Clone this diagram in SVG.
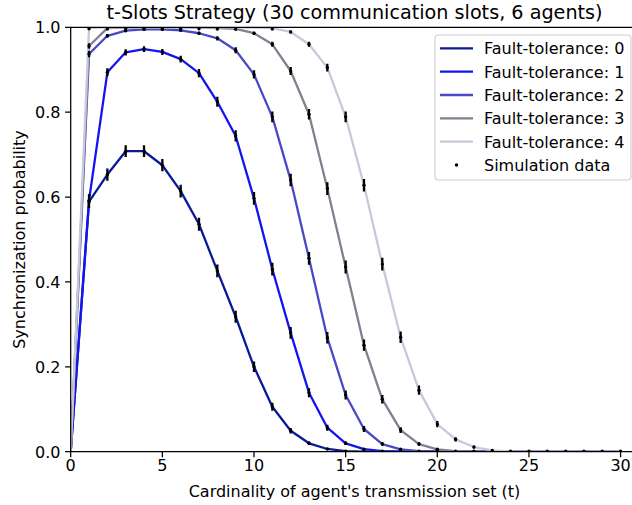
<svg xmlns="http://www.w3.org/2000/svg" width="632" height="505" viewBox="0 0 632 505">
<style>
text{font-family:"DejaVu Sans","Liberation Sans",sans-serif;fill:#000}
.t{font-size:16px}
.curve{fill:none;stroke-width:2.3;stroke-linejoin:round;stroke-linecap:butt}
.f0{stroke:#0a1a96}.f1{stroke:#1414f0}.f2{stroke:#4848c8}.f3{stroke:#808090}.f4{stroke:#c8c8dc}
.eb{fill:none;stroke:#000;stroke-width:2.3}
.spine{fill:none;stroke:#000;stroke-width:1.25;stroke-linecap:square}
.tick{stroke:#000;stroke-width:1.25}
</style>
<defs>
<clipPath id="ax"><rect x="70.7" y="27.3" width="570" height="424.4"/></clipPath>
<circle id="d" r="1.7" fill="#000"/>
</defs>
<rect width="632" height="505" fill="#fff"/>
<g id="plot" clip-path="url(#ax)">
<g id="curves">
<polyline class="curve f0" points="70.7,451.7 89.03,201.73 107.36,174.57 125.69,151.22 144.02,151.22 162.35,165.23 180.68,191.12 199.01,224.22 217.34,270.91 235.67,316.74 254,366.82 272.33,406.71 290.66,430.69 308.99,443.3 327.32,448.98 345.65,451.06 363.98,451.57 382.31,451.7 620.6,451.7"/>
<polyline class="curve f1" points="70.7,451.7 89.03,200.46 107.36,72.29 125.69,52.34 144.02,49.11 162.35,51.92 180.68,59.13 199.01,73.14 217.34,101.78 235.67,135.95 254,198.33 272.33,269.21 290.66,332.87 308.99,392.71 327.32,427.68 345.65,443.3 363.98,449.15 382.31,451.15 400.64,451.62 418.97,451.7 620.6,451.7"/>
<polyline class="curve f2" points="70.7,451.7 89.03,54.04 107.36,35.79 125.69,30.7 144.02,29.42 162.35,29.42 180.68,30.27 199.01,33.24 217.34,38.33 235.67,50.22 254,74.41 272.33,116.85 290.66,180.08 308.99,258.34 327.32,337.7 345.65,395 363.98,428.99 382.31,444.06 400.64,449.32 418.97,451.15 437.3,451.62 455.63,451.7 620.6,451.7"/>
<polyline class="curve f3" points="70.7,451.7 89.03,45.97 107.36,28.15 125.69,27.51 144.02,27.38 162.35,27.38 180.68,27.38 199.01,27.64 217.34,28.15 235.67,28.79 254,33.24 272.33,44.28 290.66,71.01 308.99,114.3 327.32,188.57 345.65,267.09 363.98,345.18 382.31,399.33 400.64,430.06 418.97,444.06 437.3,449.32 455.63,451.15 473.96,451.62 492.29,451.7 620.6,451.7"/>
<polyline class="curve f4" points="70.7,451.7 89.03,27.94 107.36,27.34 235.67,27.34 254,27.51 272.33,28.15 290.66,31.97 308.99,44.28 327.32,67.62 345.65,116.85 363.98,185.18 382.31,264.12 400.64,337.32 418.97,390.16 437.3,424.11 455.63,439.39 473.96,447.03 492.29,450.43 510.62,451.45 528.95,451.7 620.6,451.7"/>
</g>
<g id="errorbars">
<path class="eb" d="M89.03 195.3V208.1M107.36 168.4V180.8M125.69 145.3V157.1M144.02 145.3V157.1M162.35 159.1V171.3M180.68 184.8V197.4M199.01 217.7V230.7M217.34 264.5V277.3M235.67 310.7V322.8M254 361.6V372M272.33 402.7V410.7M290.66 427.9V433.5M308.99 441.5V445.1M327.32 448V450
M89.03 194.1V206.9M107.36 68.3V76.3M125.69 49.2V55.4M144.02 46.2V52M162.35 48.9V54.9M180.68 55.7V62.5M199.01 69.1V77.2M217.34 96.8V106.7M235.67 130.3V141.6M254 191.9V204.7M272.33 262.8V275.6M290.66 327V338.7M308.99 388.2V397.2M327.32 424.7V430.7M345.65 441.5V445.1M363.98 448.2V450.2
M89.03 50.9V57.2M107.36 34V37.6M125.69 29.5V31.9M180.68 29.2V31.4M199.01 31.7V34.8M217.34 36.3V40.4M235.67 47.3V53.2M254 70.3V78.5M272.33 111.6V122.2M290.66 173.8V186.3M308.99 251.9V264.8M327.32 331.9V343.5M345.65 390.6V399.4M363.98 426.1V431.9M382.31 442.3V445.8
M89.03 43.3V48.6M254 31.7V34.8M272.33 41.7V46.8M290.66 67.1V75M308.99 109.1V119.6M327.32 182.3V194.9M345.65 260.6V273.5M363.98 339.5V350.8M382.31 395.1V403.6M400.64 427.2V432.9M418.97 442.3V445.8
M290.66 30.6V33.3M308.99 41.7V46.8M327.32 63.8V71.4M345.65 111.6V122.2M363.98 178.9V191.5M382.31 257.7V270.6M400.64 331.6V343.1M418.97 385.6V394.7M437.3 420.9V427.3M455.63 437.2V441.6M473.96 445.7V448.4"/>
</g>
<g id="sim-dots">
<use href="#d" x="89.03" y="201.73"/><use href="#d" x="107.36" y="174.57"/><use href="#d" x="125.69" y="151.22"/><use href="#d" x="144.02" y="151.22"/><use href="#d" x="162.35" y="165.23"/><use href="#d" x="180.68" y="191.12"/><use href="#d" x="199.01" y="224.22"/><use href="#d" x="217.34" y="270.91"/><use href="#d" x="235.67" y="316.74"/><use href="#d" x="254" y="366.82"/><use href="#d" x="272.33" y="406.71"/><use href="#d" x="290.66" y="430.69"/><use href="#d" x="308.99" y="443.3"/><use href="#d" x="327.32" y="448.98"/>
<use href="#d" x="89.03" y="200.46"/><use href="#d" x="107.36" y="72.29"/><use href="#d" x="125.69" y="52.34"/><use href="#d" x="144.02" y="49.11"/><use href="#d" x="162.35" y="51.92"/><use href="#d" x="180.68" y="59.13"/><use href="#d" x="199.01" y="73.14"/><use href="#d" x="217.34" y="101.78"/><use href="#d" x="235.67" y="135.95"/><use href="#d" x="254" y="198.33"/><use href="#d" x="272.33" y="269.21"/><use href="#d" x="290.66" y="332.87"/><use href="#d" x="308.99" y="392.71"/><use href="#d" x="327.32" y="427.68"/><use href="#d" x="345.65" y="443.3"/><use href="#d" x="363.98" y="449.15"/>
<use href="#d" x="89.03" y="54.04"/><use href="#d" x="107.36" y="35.79"/><use href="#d" x="125.69" y="30.7"/><use href="#d" x="144.02" y="29.42"/><use href="#d" x="162.35" y="29.42"/><use href="#d" x="180.68" y="30.27"/><use href="#d" x="199.01" y="33.24"/><use href="#d" x="217.34" y="38.33"/><use href="#d" x="235.67" y="50.22"/><use href="#d" x="254" y="74.41"/><use href="#d" x="272.33" y="116.85"/><use href="#d" x="290.66" y="180.08"/><use href="#d" x="308.99" y="258.34"/><use href="#d" x="327.32" y="337.7"/><use href="#d" x="345.65" y="395"/><use href="#d" x="363.98" y="428.99"/><use href="#d" x="382.31" y="444.06"/><use href="#d" x="400.64" y="449.32"/>
<use href="#d" x="89.03" y="45.97"/><use href="#d" x="107.36" y="29"/><use href="#d" x="125.69" y="28.8"/><use href="#d" x="144.02" y="28.8"/><use href="#d" x="162.35" y="28.8"/><use href="#d" x="180.68" y="28.8"/><use href="#d" x="199.01" y="28.8"/><use href="#d" x="217.34" y="29"/><use href="#d" x="235.67" y="29.2"/><use href="#d" x="254" y="33.24"/><use href="#d" x="272.33" y="44.28"/><use href="#d" x="290.66" y="71.01"/><use href="#d" x="308.99" y="114.3"/><use href="#d" x="327.32" y="188.57"/><use href="#d" x="345.65" y="267.09"/><use href="#d" x="363.98" y="345.18"/><use href="#d" x="382.31" y="399.33"/><use href="#d" x="400.64" y="430.06"/><use href="#d" x="418.97" y="444.06"/><use href="#d" x="437.3" y="449.32"/>
<use href="#d" x="89.03" y="28.8"/><use href="#d" x="272.33" y="29"/><use href="#d" x="290.66" y="31.97"/><use href="#d" x="308.99" y="44.28"/><use href="#d" x="327.32" y="67.62"/><use href="#d" x="345.65" y="116.85"/><use href="#d" x="363.98" y="185.18"/><use href="#d" x="382.31" y="264.12"/><use href="#d" x="400.64" y="337.32"/><use href="#d" x="418.97" y="390.16"/><use href="#d" x="437.3" y="424.11"/><use href="#d" x="455.63" y="439.39"/><use href="#d" x="473.96" y="447.03"/><use href="#d" x="492.29" y="450.43"/>
<use href="#d" x="345.65" y="451.2"/><use href="#d" x="363.98" y="451.2"/><use href="#d" x="382.31" y="451.2"/><use href="#d" x="400.64" y="451.2"/><use href="#d" x="418.97" y="451.2"/><use href="#d" x="437.3" y="451.2"/><use href="#d" x="455.63" y="451.2"/><use href="#d" x="473.96" y="451.2"/><use href="#d" x="492.29" y="451.2"/><use href="#d" x="510.62" y="451.2"/><use href="#d" x="528.95" y="451.2"/><use href="#d" x="547.28" y="451.2"/><use href="#d" x="565.61" y="451.2"/><use href="#d" x="583.94" y="451.2"/><use href="#d" x="602.27" y="451.2"/><use href="#d" x="620.6" y="451.2"/>
</g>
</g>
<g id="axes">
<path class="spine" d="M70.7 27.3V451.7H640M70.7 27.3H640"/>
<path class="tick" d="M70.7 451.7v5.6M162.35 451.7v5.6M254 451.7v5.6M345.65 451.7v5.6M437.3 451.7v5.6M528.95 451.7v5.6M620.6 451.7v5.6M70.7 451.7h-5.6M70.7 366.82h-5.6M70.7 281.94h-5.6M70.7 197.06h-5.6M70.7 112.18h-5.6M70.7 27.3h-5.6"/>
<g class="t" text-anchor="middle">
<text x="70.7" y="471">0</text><text x="162.35" y="471">5</text><text x="254" y="471">10</text><text x="345.65" y="471">15</text><text x="437.3" y="471">20</text><text x="528.95" y="471">25</text><text x="620.6" y="471">30</text>
</g>
<g class="t" text-anchor="end">
<text x="60.5" y="457.5">0.0</text><text x="60.5" y="372.6">0.2</text><text x="60.5" y="287.7">0.4</text><text x="60.5" y="202.9">0.6</text><text x="60.5" y="118">0.8</text><text x="60.5" y="33.1">1.0</text>
</g>
<text class="t" x="354.5" y="497" text-anchor="middle">Cardinality of agent's transmission set (t)</text>
<text class="t" transform="translate(25 239.5) rotate(-90)" text-anchor="middle">Synchronization probability</text>
</g>
<text id="title" x="354.5" y="18.5" text-anchor="middle" font-size="19.2">t-Slots Strategy (30 communication slots, 6 agents)</text>
<g id="legend">
<rect x="435" y="35" width="196" height="145" rx="3.5" fill="#fff" fill-opacity="0.8" stroke="#cccccc" stroke-width="1.1"/>
<line class="curve f0" x1="440" y1="48.3" x2="473" y2="48.3"/>
<line class="curve f1" x1="440" y1="71.7" x2="473" y2="71.7"/>
<line class="curve f2" x1="440" y1="95" x2="473" y2="95"/>
<line class="curve f3" x1="440" y1="118.3" x2="473" y2="118.3"/>
<line class="curve f4" x1="440" y1="141.7" x2="473" y2="141.7"/>
<use href="#d" x="456.5" y="165"/>
<g class="t">
<text x="484" y="54.1">Fault-tolerance: 0</text>
<text x="484" y="77.5">Fault-tolerance: 1</text>
<text x="484" y="100.8">Fault-tolerance: 2</text>
<text x="484" y="124.1">Fault-tolerance: 3</text>
<text x="484" y="147.5">Fault-tolerance: 4</text>
<text x="484" y="170.8">Simulation data</text>
</g>
</g>
</svg>
